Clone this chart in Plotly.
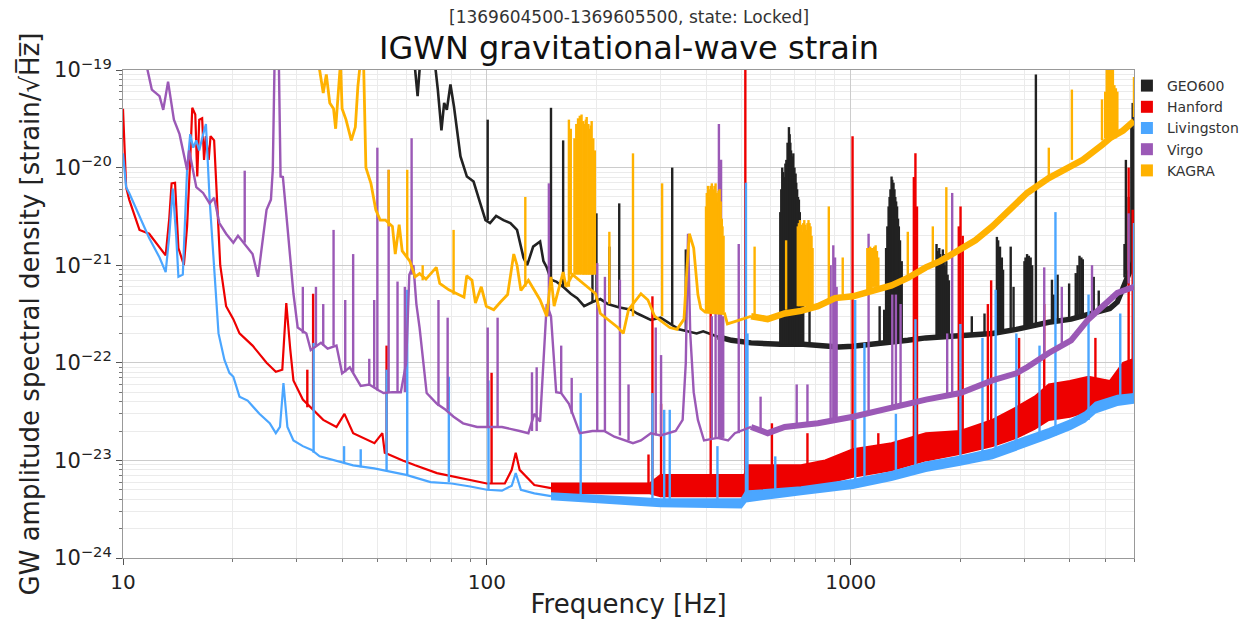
import plotly.graph_objects as go

# ---------------- data (frequency [Hz], ASD [strain/sqrt(Hz)]) ----------------
detectors = ["GEO600", "Hanford", "Livingston", "Virgo", "KAGRA"]
colors = ["#222222", "#ee0000", "#4ba6ff", "#9b59b6", "#ffb200"]

# GEO600
geo_f = [61.0, 63.5, 64.5, 65.3, 66.5, 71.5, 72.3, 73.3, 75.0, 76.3, 77.6, 79.4, 81.2, 84.6, 88.1,
         91.9, 95.9, 99.1, 102, 106, 111, 116, 121, 126, 129, 134, 140, 143, 146, 150, 155, 162,
         170, 177, 185, 195, 205, 215, 230, 249, 259, 270, 282, 300, 337, 377, 393, 431, 470, 532,
         591, 640, 740, 850, 925, 1014, 1164, 1294, 1434, 1608, 2000, 2450, 2850, 3500, 4030,
         4500, 5150, 5400, 5600, 5800, 6000]
geo_asd = [1.5e-19, 1.0e-19, 5.4e-20, 1.0e-19, 1.5e-19, 1.5e-19, 1.0e-19, 6.3e-20, 2.4e-20, 4.6e-20,
           3.9e-20, 7.1e-20, 4.2e-20, 1.3e-20, 8.1e-21, 7.2e-21, 4.3e-21, 2.9e-21, 2.7e-21, 3.2e-21,
           2.9e-21, 2.7e-21, 2.3e-21, 1.2e-21, 1.0e-21, 1.55e-21, 1.75e-21, 1.1e-21, 9.5e-22, 7.1e-22,
           6.8e-22, 6.0e-22, 5.1e-22, 4.6e-22, 3.8e-22, 4.2e-22, 4.5e-22, 4.0e-22, 3.7e-22, 3.5e-22,
           3.2e-22, 2.95e-22, 2.75e-22, 2.9e-22, 2.2e-22, 2.0e-22, 2.1e-22, 1.85e-22, 1.7e-22, 1.6e-22,
           1.55e-22, 1.55e-22, 1.55e-22, 1.5e-22, 1.45e-22, 1.48e-22, 1.55e-22, 1.6e-22, 1.7e-22, 1.8e-22,
           1.9e-22, 2.0e-22, 2.2e-22, 2.6e-22, 2.8e-22, 3.1e-22, 3.6e-22, 4.2e-22, 6.0e-22, 8.0e-22, 1.1e-21]
geo_spike_f = [100.5, 150, 162, 195, 200, 217, 231, 323, 352, 640, 648, 658, 665, 676, 682, 688, 695,
               705, 712, 720, 728, 740, 770, 1200, 1235, 1250, 1270, 1285, 1294, 1310, 1325, 1340,
               1355, 1380, 1720, 1740, 1760, 1790, 1810, 1830, 1860, 2150, 2330, 2520, 2570, 2620,
               2750, 2800, 3000, 3050, 3120, 3150, 3225, 3570, 3620, 3700, 3980, 4150, 4250, 4340,
               4650, 4800, 5650, 5700, 5800, 5900, 5950, 6000,
               644, 652, 661, 670, 679, 685, 692, 700, 708, 716, 724, 733,
               1260, 1278, 1300, 1318, 1332, 1348, 1365, 1730, 1750, 1775, 1800, 1820, 1845,
               2540, 2600, 3020, 3085, 4200, 4300]
geo_spike_lo = [2.9e-21, 7.1e-22, 6.0e-22, 4.2e-22, 4.2e-22, 4.0e-22, 3.7e-22, 2.5e-22, 2.1e-22,
                1.55e-22, 1.55e-22, 1.55e-22, 1.55e-22, 1.55e-22, 1.55e-22, 1.55e-22, 1.55e-22,
                1.5e-22, 1.5e-22, 1.5e-22, 1.5e-22, 1.5e-22, 1.5e-22, 1.55e-22, 1.55e-22, 1.55e-22,
                1.55e-22, 1.6e-22, 1.6e-22, 1.6e-22, 1.6e-22, 1.6e-22, 1.6e-22, 1.6e-22, 1.9e-22,
                1.9e-22, 1.9e-22, 1.9e-22, 1.9e-22, 1.9e-22, 1.9e-22, 2.0e-22, 2.0e-22, 2.1e-22,
                2.1e-22, 2.1e-22, 2.2e-22, 2.2e-22, 2.4e-22, 2.4e-22, 2.4e-22, 2.4e-22, 2.4e-22,
                2.6e-22, 2.6e-22, 2.7e-22, 2.8e-22, 2.9e-22, 3.0e-22, 3.1e-22, 3.4e-22, 3.6e-22,
                7.5e-22, 8.0e-22, 9.0e-22, 1.0e-21, 1.1e-21, 1.2e-21,
                1.55e-22, 1.55e-22, 1.55e-22, 1.55e-22, 1.55e-22, 1.55e-22, 1.55e-22, 1.5e-22,
                1.5e-22, 1.5e-22, 1.5e-22, 1.5e-22,
                1.55e-22, 1.6e-22, 1.6e-22, 1.6e-22, 1.6e-22, 1.6e-22, 1.6e-22, 1.9e-22, 1.9e-22,
                1.9e-22, 1.9e-22, 1.9e-22, 1.9e-22, 2.1e-22, 2.1e-22, 2.4e-22, 2.4e-22, 2.9e-22,
                3.0e-22]
geo_spike_hi = [3.1e-20, 4.1e-20, 1.9e-20, 1.55e-21, 3.4e-21, 1.55e-21, 4.3e-21, 1.0e-20, 1.45e-21,
                3.5e-21, 1.0e-20, 8.0e-21, 1.2e-20, 2.6e-20, 1.8e-20, 1.2e-20, 1.4e-20, 8.7e-21,
                6.0e-21, 4.7e-21, 2.5e-21, 8.0e-22, 4.5e-22, 3.8e-22, 3.5e-22, 1.5e-21, 4.0e-21,
                6.0e-21, 8.1e-21, 7.0e-21, 5.0e-21, 4.0e-21, 2.5e-21, 1.1e-21, 1.65e-21, 1.2e-21,
                1.3e-21, 1.45e-21, 1.0e-21, 1.1e-21, 7.0e-22, 3.0e-22, 3.2e-22, 1.95e-21, 1.55e-21,
                9.0e-22, 1.55e-21, 6.0e-22, 1.1e-21, 1.3e-21, 1.2e-21, 1.0e-21, 9.0e-20, 7.1e-22,
                5.0e-22, 8.0e-22, 6.5e-22, 8.3e-22, 1.25e-21, 1.15e-21, 7.6e-22, 5.5e-22, 1.65e-21,
                1.2e-20, 5.0e-21, 2.6e-20, 4.6e-20, 2.5e-20,
                6.0e-21, 9.0e-21, 1.1e-20, 1.8e-20, 2.2e-20, 1.5e-20, 1.3e-20, 1.0e-20, 7.0e-21,
                5.0e-21, 3.5e-21, 1.5e-21,
                2.5e-21, 5.0e-21, 7.5e-21, 6.0e-21, 4.5e-21, 3.0e-21, 1.8e-21, 1.4e-21, 1.5e-21,
                1.2e-21, 1.3e-21, 9.0e-22, 8.0e-22, 1.8e-21, 1.2e-21, 1.2e-21, 1.25e-21, 1.0e-21,
                1.2e-21]

# Hanford
han_f = [10.0, 10.2, 10.4, 11.1, 11.8, 12.3, 13.1, 13.4, 13.6, 13.9, 14.2, 14.7, 15.0, 15.3, 15.5,
         15.8, 16.0, 16.2, 16.5, 16.7, 16.9, 17.2, 17.4, 17.8, 18.1, 18.5, 19.2, 20.1, 20.9, 22.7,
         24.8, 26.3, 27.4, 28.1, 28.8, 29.4, 31.2, 33.0, 35.5, 38.6, 40.6, 42.9, 45.7, 49.1, 51.6,
         52.4, 58.7, 63.5, 72.9, 81.0, 90.0, 100, 112, 117, 120, 123, 135, 150]
han_asd = [4.0e-20, 6.3e-21, 4.7e-21, 2.3e-21, 2.1e-21, 1.7e-21, 1.26e-21, 3.0e-21, 6.9e-21, 7.0e-21,
           1.5e-21, 1.0e-21, 2.5e-21, 1.2e-20, 4.1e-20, 3.5e-20, 8.1e-21, 3.1e-20, 3.2e-20, 1.2e-20,
           2.1e-20, 1.2e-20, 2.1e-20, 1.9e-20, 4.7e-21, 1.0e-21, 3.8e-22, 2.8e-22, 2.0e-22, 1.5e-22,
           1.0e-22, 8.1e-23, 8.5e-23, 4.1e-22, 1.4e-22, 6.6e-23, 4.2e-23, 3.4e-23, 2.6e-23, 2.2e-23,
           3.0e-23, 1.9e-23, 1.7e-23, 1.5e-23, 1.9e-23, 1.2e-23, 1.0e-23, 8.9e-24, 7.4e-24, 6.8e-24,
           6.3e-24, 5.8e-24, 5.8e-24, 8.0e-24, 1.2e-23, 8.0e-24, 5.6e-24, 5.2e-24]
han_band_f = [150, 280, 300, 510, 520, 730, 850, 1014, 1294, 1608, 2000, 2450, 2850, 3200, 3500,
              4000, 4500, 5150, 5600, 6000]
han_band_lo = [4.6e-24, 4.6e-24, 4.3e-24, 4.3e-24, 5.0e-24, 5.0e-24, 5.8e-24, 6.8e-24, 7.9e-24,
               1.0e-23, 1.17e-23, 1.4e-23, 1.7e-23, 2.1e-23, 2.6e-23, 2.8e-23, 3.2e-23, 4.5e-23,
               4.5e-23, 5.0e-23]
han_band_hi = [5.8e-24, 5.8e-24, 7.1e-24, 7.1e-24, 8.9e-24, 8.9e-24, 1.0e-23, 1.3e-23, 1.5e-23,
               1.9e-23, 2.0e-23, 2.6e-23, 3.5e-23, 4.5e-23, 6.0e-23, 6.5e-23, 7.2e-23, 6.5e-23,
               1.0e-22, 1.1e-22]
han_spike_f = [32.1, 33.3, 53.0, 103, 278, 285, 301, 412, 513, 607, 760, 1011, 1190, 1490, 1505,
               1520, 1980, 2002, 2030, 2380, 2430, 2900, 3400, 4700, 5800, 5950]
han_spike_lo = [3.5e-23, 3.3e-23, 1.2e-23, 5.8e-24, 5.5e-24, 5.5e-24, 5.5e-24, 6.0e-24, 6.0e-24,
                7.0e-24, 8.0e-24, 1.1e-23, 1.3e-23, 1.6e-23, 1.6e-23, 1.6e-23, 1.9e-23, 1.9e-23,
                1.9e-23, 2.4e-23, 2.4e-23, 3.0e-23, 4.0e-23, 6.0e-23, 8.0e-23, 8.0e-23]
han_spike_hi = [8.5e-23, 5.1e-22, 1.5e-22, 7.9e-23, 1.15e-23, 4.8e-22, 3.8e-23, 4.4e-22, 1.5e-19,
                2.4e-23, 1.9e-23, 2.1e-20, 1.9e-23, 8.0e-21, 1.4e-20, 4.0e-21, 2.5e-21, 4.0e-21,
                2.0e-21, 4.0e-22, 7.0e-22, 1.8e-22, 4.0e-22, 1.8e-22, 1.0e-20, 3.7e-21]

# Livingston
liv_f = [10.0, 10.2, 10.4, 11.1, 11.8, 12.6, 13.1, 13.4, 13.7, 14.0, 14.2, 14.6, 15.0, 15.3, 15.6,
         15.9, 16.2, 16.5, 16.9, 17.3, 17.9, 18.3, 19.0, 19.6, 20.1, 20.9, 22.0, 23.7, 25.3, 26.3,
         27.0, 27.6, 28.3, 29.4, 31.2, 33.0, 34.7, 38.0, 42.9, 49.0, 55.0, 60.0, 70.0, 80.0, 90.0,
         100, 110, 117, 120, 124, 135, 150]
liv_asd = [1.4e-20, 6.3e-21, 5.5e-21, 3.2e-21, 1.9e-21, 1.2e-21, 8.5e-22, 2.0e-21, 6.1e-21, 2.0e-21,
           7.6e-22, 8.0e-22, 9.5e-21, 2.2e-20, 1.6e-20, 1.9e-20, 1.5e-20, 2.0e-20, 2.8e-20, 4.7e-21,
           7.6e-22, 2.0e-22, 1.07e-22, 7.9e-23, 7.2e-23, 4.5e-23, 4.1e-23, 3.0e-23, 2.4e-23, 1.9e-23,
           2.2e-23, 6.2e-23, 2.2e-23, 1.6e-23, 1.4e-23, 1.28e-23, 1.1e-23, 1.0e-23, 8.9e-24, 8.3e-24,
           7.6e-24, 7.1e-24, 6.0e-24, 5.8e-24, 5.4e-24, 5.0e-24, 4.9e-24, 5.5e-24, 7.4e-24, 5.0e-24,
           4.6e-24, 4.3e-24]
liv_band_f = [150, 300, 500, 515, 730, 1014, 1294, 1608, 2000, 2450, 2850, 3500, 4030, 4400, 4700,
              5400, 6000]
liv_band_lo = [4.0e-24, 3.4e-24, 3.3e-24, 3.8e-24, 4.5e-24, 5.2e-24, 6.3e-24, 7.8e-24, 9.0e-24,
               1.05e-23, 1.3e-23, 1.7e-23, 2.1e-23, 2.5e-23, 3.1e-23, 3.7e-23, 3.9e-23]
liv_band_hi = [4.6e-24, 4.0e-24, 4.0e-24, 4.8e-24, 5.3e-24, 6.3e-24, 7.6e-24, 9.5e-24, 1.1e-23,
               1.3e-23, 1.6e-23, 2.1e-23, 2.6e-23, 3.1e-23, 3.9e-23, 4.6e-23, 4.8e-23]
liv_spike_f = [33.4, 40.5, 45.0, 53.0, 60.4, 78.6, 101, 181, 285, 307, 318, 430, 515, 520, 620,
               1028, 1090, 1330, 1505, 2000, 2300, 2500, 2850, 3300, 3650, 4500, 5500, 6000]
liv_spike_lo = [1.2e-23, 9.5e-24, 8.5e-24, 7.8e-24, 7.1e-24, 6.0e-24, 5.0e-24, 4.2e-24, 3.6e-24,
                3.6e-24, 3.6e-24, 3.5e-24, 3.8e-24, 3.8e-24, 4.5e-24, 5.5e-24, 6.0e-24, 7.0e-24,
                7.5e-24, 9.5e-24, 1.05e-23, 1.1e-23, 1.3e-23, 1.6e-23, 1.8e-23, 2.6e-23, 3.8e-23,
                4.0e-23]
liv_spike_hi = [1.6e-22, 1.4e-23, 1.3e-23, 8.5e-23, 5.6e-22, 7.2e-23, 6.6e-23, 4.9e-23, 4.9e-23,
                3.3e-23, 3.3e-23, 1.4e-23, 7.0e-21, 2.0e-22, 1.1e-23, 4.4e-22, 1.6e-22, 3.0e-23,
                2.8e-22, 2.5e-22, 1.8e-22, 5.6e-22, 2.0e-22, 1.5e-22, 3.5e-21, 5.0e-22, 3.2e-22,
                2.7e-21]

# Virgo
vir_f = [11.5, 12.0, 12.6, 12.9, 13.3, 13.8, 14.3, 15.0, 15.2, 15.9, 16.6, 17.3, 17.8, 18.4, 19.2,
         20.1, 20.7, 22.7, 23.5, 24.4, 24.8, 25.5, 25.8, 26.1, 26.8, 27.1, 27.5, 28.3, 29.4, 30.2,
         31.9, 32.8, 35.0, 36.5, 38.6, 40.0, 42.0, 45.0, 47.5, 50.5, 52.0, 55.0, 58.0, 60.0, 61.2,
         62.8, 64.0, 65.3, 68.3, 72.9, 77.0, 81.0, 86.0, 94.0, 110, 123, 130, 135, 140, 146, 150,
         155, 160, 168, 180, 195, 210, 224, 252, 265, 282, 300, 330, 345, 352, 357, 362, 370, 380,
         395, 430, 460, 480, 532, 591, 658, 730, 812, 1014, 1294, 1608, 2000, 2450, 2850, 3050,
         3500, 4030, 4500, 5000, 5400, 6000]
vir_asd = [1.3e-19, 6.3e-20, 5.4e-20, 3.9e-20, 7.6e-20, 3.1e-20, 2.2e-20, 9.5e-21, 1.5e-20, 6.3e-21,
           5.5e-21, 4.3e-21, 4.9e-21, 2.7e-21, 2.1e-21, 1.7e-21, 2.0e-21, 1.3e-21, 7.6e-22, 2.1e-21,
           3.7e-21, 4.7e-21, 9.5e-21, 1.3e-19, 1.3e-19, 8.1e-21, 8.0e-21, 2.5e-21, 5.1e-22, 2.3e-22,
           2.0e-22, 1.35e-22, 1.6e-22, 1.4e-22, 1.5e-22, 7.8e-23, 9.0e-23, 5.8e-23, 6.0e-23, 5.2e-23,
           4.9e-23, 5.0e-23, 5.0e-23, 1.0e-22, 8.0e-22, 1.0e-21, 4.0e-22, 2.3e-22, 4.9e-23, 3.8e-23,
           3.3e-23, 2.8e-23, 2.4e-23, 2.2e-23, 2.2e-23, 2.0e-23, 1.9e-23, 3.0e-23, 2.5e-23, 4.0e-22,
           3.0e-22, 5.0e-23, 4.9e-23, 3.8e-23, 1.9e-23, 2.0e-23, 2.0e-23, 1.75e-23, 1.5e-23, 1.6e-23,
           1.9e-23, 1.8e-23, 2.0e-23, 2.6e-23, 1.0e-22, 2.1e-21, 2.0e-22, 5.0e-23, 2.6e-23, 1.6e-23,
           1.7e-23, 1.6e-23, 1.9e-23, 2.2e-23, 1.9e-23, 2.2e-23, 2.3e-23, 2.4e-23, 2.8e-23, 3.5e-23,
           4.2e-23, 4.9e-23, 6.6e-23, 7.8e-23, 9.0e-23, 1.26e-22, 1.7e-22, 2.8e-22, 4.0e-22, 5.2e-22,
           6.0e-22]
vir_spike_f = [21.6, 31.2, 33.9, 35.5, 37.9, 40.8, 42.9, 47.5, 49.0, 50.0, 53.7, 56.8, 59.5, 62.1,
               73.6, 78.0, 100.5, 107, 133, 137, 148, 160, 171, 201, 211, 232, 245, 291, 301, 415,
               425, 434, 440, 446, 492, 565, 710, 760, 880, 895, 905, 914, 1119, 1300, 1330, 1370,
               1840, 1899, 3400, 3800, 4600, 5800]
vir_spike_lo = [1.7e-21, 2.0e-22, 1.5e-22, 1.5e-22, 1.5e-22, 8.0e-23, 8.0e-23, 6.0e-23, 5.5e-23,
                5.2e-23, 5.0e-23, 5.0e-23, 5.0e-23, 8.0e-22, 3.6e-23, 3.3e-23, 2.2e-23, 2.2e-23,
                2.0e-23, 2.0e-23, 3.0e-22, 4.9e-23, 3.0e-23, 2.0e-23, 2.0e-23, 1.8e-23, 1.6e-23,
                1.8e-23, 1.8e-23, 1.7e-23, 1.7e-23, 1.7e-23, 1.7e-23, 1.7e-23, 1.9e-23, 2.0e-23,
                2.3e-23, 2.3e-23, 2.5e-23, 2.5e-23, 2.5e-23, 2.5e-23, 3.0e-23, 3.5e-23, 3.5e-23,
                3.6e-23, 4.5e-23, 4.6e-23, 1.2e-22, 1.5e-22, 3.0e-22, 6.5e-22]
vir_spike_hi = [9.3e-21, 6.0e-22, 6.0e-22, 4.0e-22, 2.3e-21, 4.4e-22, 1.3e-21, 1.1e-22, 4.4e-22,
                1.6e-20, 9.5e-21, 6.8e-22, 6.0e-22, 2.0e-20, 4.4e-22, 2.9e-22, 2.3e-22, 2.9e-22,
                8.0e-23, 9.0e-23, 6.9e-21, 1.5e-22, 7.0e-23, 1.05e-21, 7.6e-22, 7.1e-22, 6.0e-23,
                2.3e-22, 1.2e-22, 3.0e-22, 1.5e-21, 2.8e-20, 1.2e-20, 3.0e-22, 1.65e-21, 4.5e-23,
                6.0e-23, 6.0e-23, 1.0e-21, 1.6e-21, 1.2e-21, 6.0e-22, 2.1e-21, 5.0e-22, 5.0e-22,
                4.0e-22, 2.0e-22, 5.5e-21, 9.5e-22, 6.0e-22, 1.0e-21, 3.4e-21]

# KAGRA
kag_f = [33.5, 34.7, 35.5, 36.2, 37.0, 37.9, 38.4, 39.0, 39.6, 40.0, 41.0, 42.4, 43.5, 44.2, 45.0,
         45.8, 46.5, 48.0, 49.5, 50.9, 52.6, 55.0, 56.0, 57.4, 58.5, 61.4, 63.5, 65.3, 68.0, 72.6,
         74.2, 78.6, 82.7, 86.5, 88.0, 91.0, 93.0, 96.5, 99.6, 104.4, 109, 114, 118.5, 121, 124,
         130, 140, 146, 150, 153, 162, 165, 172, 199, 205, 229, 237, 245, 265, 277, 289, 318, 333,
         348, 355, 360, 370, 380, 387, 398, 450, 458, 489, 532, 591, 658, 730, 812, 905, 1014, 1294,
         1434, 1608, 1760, 2000, 2200, 2450, 2850, 3050, 3500, 4030, 4340, 4900, 5150, 5600, 6000]
kag_asd = [1.3e-19, 1.0e-19, 5.8e-20, 9.0e-20, 4.6e-20, 4.0e-20, 2.5e-20, 6.0e-20, 1.2e-19, 4.0e-20,
           3.1e-20, 1.9e-20, 2.6e-20, 6.8e-20, 1.3e-19, 1.3e-19, 1.0e-20, 6.9e-21, 3.7e-21, 2.9e-21,
           2.9e-21, 2.5e-21, 1.3e-21, 2.6e-21, 1.4e-21, 1.1e-21, 7.6e-22, 8.2e-22, 7.2e-22, 9.5e-22,
           6.5e-22, 5.6e-22, 5.1e-22, 4.7e-22, 7.8e-22, 7.0e-22, 4.1e-22, 6.0e-22, 3.8e-22, 3.5e-22,
           4.2e-22, 5.0e-22, 1.3e-21, 1.0e-21, 5.5e-22, 7.0e-22, 4.4e-22, 3.0e-22, 7.6e-22, 3.8e-22,
           8.5e-22, 6.0e-22, 8.0e-22, 5.1e-22, 3.2e-22, 2.3e-22, 2.0e-22, 3.5e-22, 5.1e-22, 4.4e-22,
           3.0e-22, 2.3e-22, 2.2e-22, 2.8e-22, 1.0e-21, 2.1e-21, 1.5e-21, 5.0e-22, 3.6e-22, 3.3e-22,
           3.2e-22, 2.5e-22, 2.7e-22, 3.0e-22, 2.8e-22, 3.2e-22, 3.4e-22, 3.8e-22, 4.6e-22, 4.8e-22,
           6.2e-22, 7.4e-22, 9.5e-22, 1.1e-21, 1.45e-21, 1.8e-21, 2.5e-21, 4.3e-21, 5.5e-21, 7.8e-21,
           1.05e-20, 1.2e-20, 1.7e-20, 2.0e-20, 2.4e-20, 3.0e-20]
kag_spike_f = [53.7, 60.4, 66.6, 81.0, 127.5, 168, 174, 178, 182, 185, 188, 191, 194, 196, 217, 252,
               303, 400, 405, 410, 415, 420, 425, 430, 436, 442, 447, 544, 664, 715, 725, 735, 745,
               755, 765, 775, 785, 870, 950, 1110, 1130, 1150, 1170, 1190, 1434, 1680, 1830, 3500,
               4050, 4900, 5050, 5100, 5200, 5300, 5400, 6000,
               170, 176, 180, 184, 187, 190, 193, 198, 402, 407, 412, 418, 422, 428, 433, 439, 444,
               720, 730, 740, 750, 760, 770, 780, 1120, 1140, 1160, 1180, 5000, 5150, 5250, 5350]
kag_spike_lo = [2.5e-21, 1.2e-21, 7.0e-22, 5.0e-22, 6.0e-22, 6.0e-22, 8.0e-22, 8.0e-22, 8.0e-22,
                8.0e-22, 8.0e-22, 8.0e-22, 8.0e-22, 8.0e-22, 4.0e-22, 3.0e-22, 3.0e-22, 3.3e-22,
                3.3e-22, 3.3e-22, 3.3e-22, 3.3e-22, 3.3e-22, 3.3e-22, 3.3e-22, 3.3e-22, 3.3e-22,
                3.0e-22, 3.5e-22, 3.8e-22, 3.8e-22, 3.8e-22, 3.8e-22, 3.8e-22, 3.8e-22, 3.8e-22,
                3.8e-22, 4.5e-22, 5.0e-22, 5.5e-22, 5.5e-22, 6.0e-22, 6.0e-22, 6.0e-22, 7.6e-22,
                1.0e-21, 1.2e-21, 8.0e-21, 1.2e-20, 1.9e-20, 2.0e-20, 2.0e-20, 2.0e-20, 2.0e-20,
                2.2e-20, 3.3e-20,
                8.0e-22, 8.0e-22, 8.0e-22, 8.0e-22, 8.0e-22, 8.0e-22, 8.0e-22, 8.0e-22, 3.3e-22,
                3.3e-22, 3.3e-22, 3.3e-22, 3.3e-22, 3.3e-22, 3.3e-22, 3.3e-22, 3.3e-22, 3.8e-22,
                3.8e-22, 3.8e-22, 3.8e-22, 3.8e-22, 3.8e-22, 3.8e-22, 5.5e-22, 5.5e-22, 6.0e-22,
                6.0e-22, 2.0e-20, 2.0e-20, 2.0e-20, 2.0e-20]
kag_spike_hi = [9.5e-21, 9.5e-21, 1.0e-21, 2.3e-21, 5.0e-21, 3.1e-20, 2.0e-20, 3.2e-20, 3.5e-20,
                2.8e-20, 3.3e-20, 2.5e-20, 3.0e-20, 2.0e-20, 2.2e-21, 1.4e-20, 6.9e-21, 4.0e-21,
                6.5e-21, 5.0e-21, 6.9e-21, 5.5e-21, 6.9e-21, 4.5e-21, 6.0e-21, 3.0e-21, 2.0e-21,
                1.55e-21, 1.8e-21, 2.5e-21, 2.9e-21, 2.2e-21, 2.9e-21, 2.3e-21, 2.9e-21, 2.5e-21,
                1.5e-21, 4.0e-21, 1.2e-21, 1.5e-21, 1.55e-21, 1.5e-21, 1.6e-21, 1.2e-21, 2.2e-21,
                2.5e-21, 6.3e-21, 1.6e-20, 6.3e-20, 5.0e-20, 1.5e-19, 1.5e-19, 1.5e-19, 7.0e-20,
                6.0e-20, 8.5e-20,
                2.5e-20, 2.8e-20, 3.4e-20, 3.0e-20, 3.1e-20, 2.8e-20, 2.7e-20, 1.5e-20, 5.5e-21,
                6.0e-21, 6.5e-21, 6.0e-21, 6.5e-21, 5.5e-21, 5.8e-21, 4.5e-21, 2.5e-21, 2.7e-21,
                2.6e-21, 2.7e-21, 2.6e-21, 2.7e-21, 2.7e-21, 2.0e-21, 1.5e-21, 1.5e-21, 1.55e-21,
                1.4e-21, 6.0e-20, 1.5e-19, 1.0e-19, 6.5e-20]

x_tick_vals = [10, 100, 1000]
x_tick_text = ["10", "100", "1000"]
y_tick_vals = [1e-24, 1e-23, 1e-22, 1e-21, 1e-20, 1e-19]
y_tick_text = ["10<sup>−24</sup>", "10<sup>−23</sup>", "10<sup>−22</sup>",
               "10<sup>−21</sup>", "10<sup>−20</sup>", "10<sup>−19</sup>"]
x_minor_vals = [m * 10 ** e for e in (1, 2, 3) for m in range(2, 10) if m * 10 ** e <= 6000]
y_minor_vals = [m * 10.0 ** e for e in range(-24, -19) for m in range(2, 10)]

# ---------------- figure ----------------
fig = go.Figure()


def spikes(fs, lo, hi):
    xs, ys = [], []
    for f, a, b in zip(fs, lo, hi):
        xs += [f, f, None]
        ys += [a, b, None]
    return xs, ys


def band(fs, lo, hi):
    return list(fs) + list(fs)[::-1], list(hi) + list(lo)[::-1]


def split(fs, vals, thr):
    i = next((k for k, f in enumerate(fs) if f >= thr), len(fs) - 1)
    return (fs[:i + 1], vals[:i + 1]), (fs[i:], vals[i:])


# (base f, base asd, band, spikes, low-f width, split freq, high-f width)
series = [
    (geo_f, geo_asd, None, (geo_spike_f, geo_spike_lo, geo_spike_hi), 2.6, 400, 5.5),
    (han_f, han_asd, (han_band_f, han_band_lo, han_band_hi), (han_spike_f, han_spike_lo, han_spike_hi), 2.2, None, None),
    (liv_f, liv_asd, (liv_band_f, liv_band_lo, liv_band_hi), (liv_spike_f, liv_spike_lo, liv_spike_hi), 2.2, None, None),
    (vir_f, vir_asd, None, (vir_spike_f, vir_spike_lo, vir_spike_hi), 2.4, 500, 6.0),
    (kag_f, kag_asd, None, (kag_spike_f, kag_spike_lo, kag_spike_hi), 2.8, 500, 6.5),
]

for name, color, (bf, ba, bnd, spk, lw, thr, lw2) in zip(detectors, colors, series):
    if thr is None:
        parts = [((bf, ba), lw)]
    else:
        lo_part, hi_part = split(bf, ba, thr)
        parts = [(lo_part, lw), (hi_part, lw2)]
    for (px, py), w in parts:
        fig.add_trace(go.Scatter(x=px, y=py, mode="lines", line=dict(color=color, width=w),
                                 showlegend=False, hoverinfo="skip"))
    if bnd is not None:
        bx, by = band(*bnd)
        fig.add_trace(go.Scatter(x=bx, y=by, mode="lines", fill="toself", fillcolor=color,
                                 line=dict(color=color, width=2), showlegend=False,
                                 hoverinfo="skip"))
    sx, sy = spikes(*spk)
    fig.add_trace(go.Scatter(x=sx, y=sy, mode="lines", line=dict(color=color, width=2.4),
                             connectgaps=False, showlegend=False, hoverinfo="skip"))

for name, color in zip(detectors, colors):
    fig.add_trace(go.Scatter(x=[None], y=[None], mode="markers", name=name,
                             marker=dict(symbol="square", size=13, color=color)))

font_family = "DejaVu Sans"
fig.update_layout(
    width=1243, height=619, autosize=False,
    margin=dict(l=123, r=109, t=70, b=61, autoexpand=False),
    paper_bgcolor="white", plot_bgcolor="white",
    font=dict(family=font_family, color="#222222"),
    legend=dict(x=0.993, y=1.0, xanchor="left", yanchor="top", font=dict(size=14, color="#333"),
                itemsizing="constant", bgcolor="rgba(0,0,0,0)", tracegroupgap=0, itemwidth=30),
    annotations=[
        dict(text="IGWN gravitational-wave strain", x=0.5, y=1.046, xref="paper", yref="paper",
             xanchor="center", yanchor="middle", showarrow=False,
             font=dict(size=32, family=font_family, color="#111")),
        dict(text="[1369604500-1369605500, state: Locked]", x=0.5, y=1.108, xref="paper",
             yref="paper", xanchor="center", yanchor="middle", showarrow=False,
             font=dict(size=17, family=font_family, color="#333")),
    ],
)
fig.update_xaxes(
    type="log", range=[1, 3.77815], tickmode="array", tickvals=x_tick_vals, ticktext=x_tick_text,
    tickfont=dict(size=20, color="#222"), ticks="outside", ticklen=6, tickcolor="#555",
    showgrid=True, gridcolor="#cccccc", gridwidth=1, automargin=False,
    minor=dict(tickmode="array", tickvals=x_minor_vals, showgrid=True, gridcolor="#ebebeb",
               ticks="outside", ticklen=3, tickcolor="#777"),
    showline=True, linecolor="#999", linewidth=1, mirror=True, zeroline=False,
    title=dict(text="Frequency [Hz]", font=dict(size=26, color="#222"), standoff=2),
)
fig.update_yaxes(
    type="log", range=[-24, -19], tickmode="array", tickvals=y_tick_vals, ticktext=y_tick_text,
    tickfont=dict(size=21, color="#222"), ticks="outside", ticklen=6, tickcolor="#555",
    showgrid=True, gridcolor="#cccccc", gridwidth=1, automargin=False,
    minor=dict(tickmode="array", tickvals=y_minor_vals, showgrid=True, gridcolor="#ebebeb",
               ticks="outside", ticklen=3, tickcolor="#777"),
    showline=True, linecolor="#999", linewidth=1, mirror=True, zeroline=False,
    title=dict(text="GW amplitude spectral density [strain/√H̅z̅]", font=dict(size=26, color="#222"),
               standoff=6),
)

fig.write_html("out.html", config={"displayModeBar": False},
               post_script="document.body.style.margin='0';document.body.style.overflow='hidden';")
